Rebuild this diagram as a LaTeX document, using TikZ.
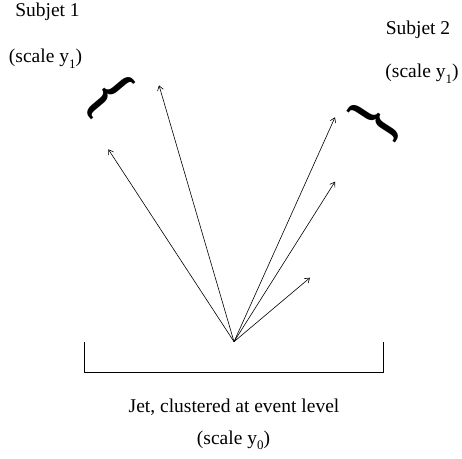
\documentclass[tikz,border=0pt]{standalone}
\usepackage{fontspec}
\setmainfont{Liberation Serif}
\usetikzlibrary{arrows.meta}
\newcommand{\lowsub}[1]{\raisebox{-0.28em}{\fontsize{13}{13}\selectfont #1}}
\tikzset{
  lbl/.style={inner sep=0pt, anchor=base, font=\fontsize{19.5}{22}\selectfont},
  vec/.style={line width=0.6pt, -{Straight Barb[length=4.5pt,width=6pt]}},
  brk/.style={line width=0.6pt},
  brc/.style={inner sep=0pt, font=\fontsize{70}{70}\selectfont\bfseries}
}
\begin{document}
\begin{tikzpicture}[x=1pt,y=1pt]
\useasboundingbox (0,0) rectangle (462,458);
% origin and tips
\coordinate (O) at (234,116.3);
\coordinate (t1) at (108.3,308.7);
\coordinate (t2) at (159,372.7);
\coordinate (t3) at (335,340.7);
\coordinate (t4) at (335,276.3);
\coordinate (t5) at (310,180.3);
\draw[vec] (O) -- (t1);
\draw[vec] (O) -- (t2);
\draw[vec] (O) -- (t3);
\draw[vec] (O) -- (t4);
\draw[vec] (O) -- (t5);
% bracket
\coordinate (bl) at (84,116.3);
\coordinate (br) at (383,116.3);
\draw[brk] (bl) -- ++(0,-31) -| (br);
% texts
\node[lbl] (s1) at (47.5,441.3) {Subjet 1};
\node[lbl] (s1s) at (45.5,395) {(scale y\lowsub{1})};
\node[lbl] (s2) at (418,423) {Subjet 2};
\node[lbl] (s2s) at (422,380) {(scale y\lowsub{1})};
\node[lbl] (jet) at (234,45.3) {Jet, clustered at event level};
\node[lbl] (jets) at (233.5,14) {(scale y\lowsub{0})};
% braces
\node[brc, rotate=-50] (b1) at (109,363) {\scalebox{0.7}[1]{\{}};
\node[brc, rotate=57] (b2) at (375.5,337) {\scalebox{0.7}[1]{\}}};
\end{tikzpicture}
\end{document}
